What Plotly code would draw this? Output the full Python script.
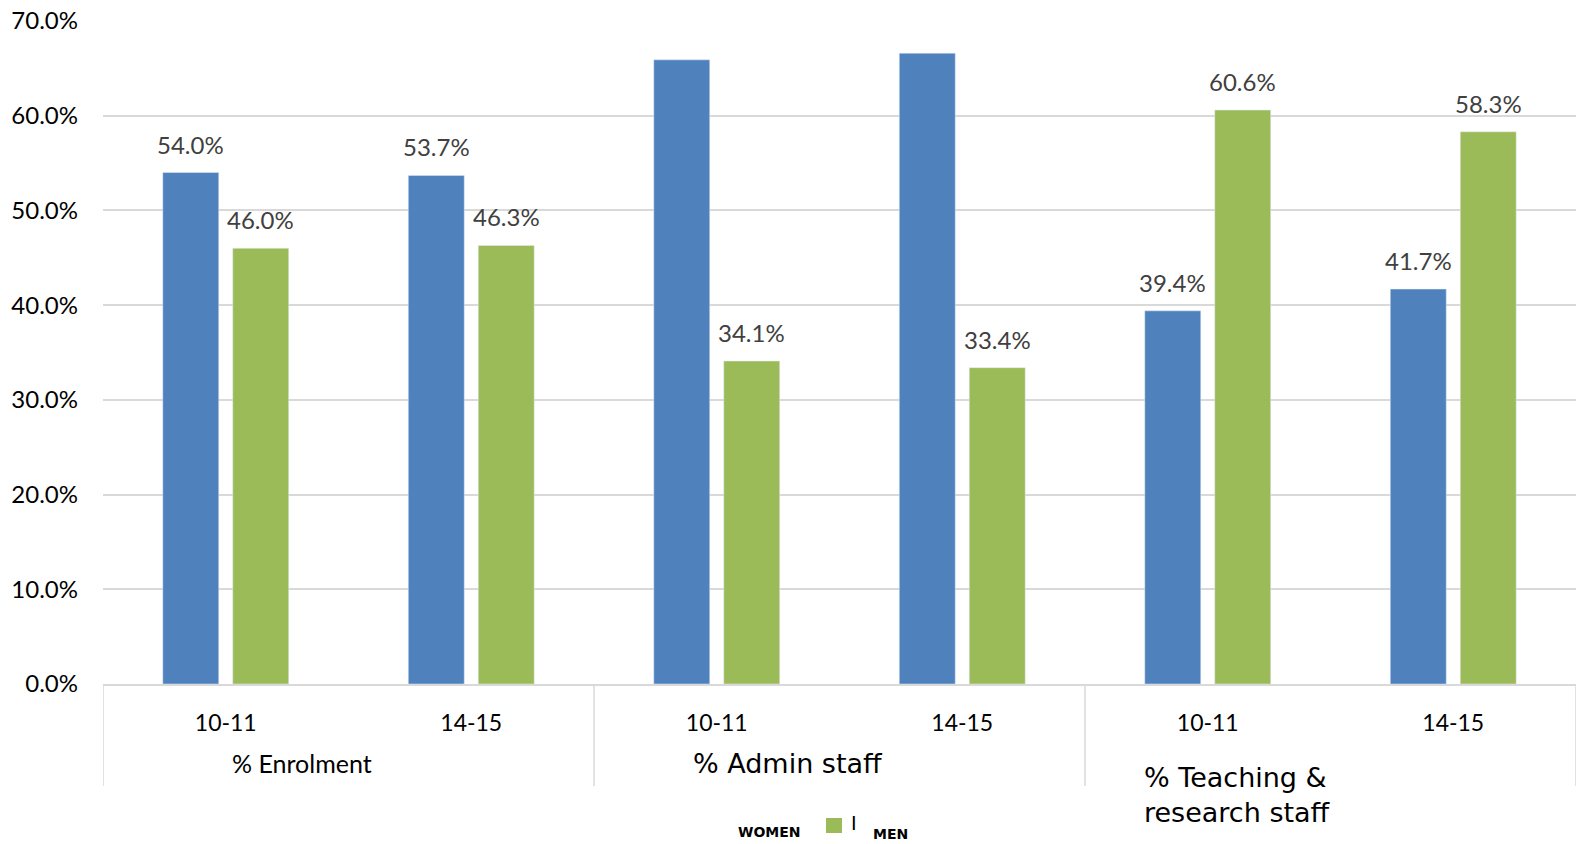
import plotly.graph_objects as go

groups = ["% Enrolment", "% Admin staff", "% Teaching &<br>research staff"]
years = ["10-11", "14-15", "10-11", "14-15", "10-11", "14-15"]
women = [54.0, 53.7, 65.9, 66.6, 39.4, 41.7]
men = [46.0, 46.3, 34.1, 33.4, 60.6, 58.3]
y_ticks = [0, 10, 20, 30, 40, 50, 60, 70]

BLUE = "#4F81BD"
GREEN = "#9BBB59"
GRID = "#d9d9d9"
FONT = "Lato"

L, T, W, H = 103, 21, 1473, 663


def px(x):
    return (x - L) / W


def py(y):
    return (T + H - y) / H


xs = list(range(len(years)))

fig = go.Figure()
fig.add_trace(go.Bar(x=xs, y=women, name="WOMEN", marker_color=BLUE, showlegend=False))
fig.add_trace(go.Bar(x=xs, y=men, name="MEN", marker_color=GREEN, showlegend=False))

bargap = 0.43
slot = (1 - bargap) / 2
annotations = []
for i in xs:
    for v, off, admin in ((women[i], -slot / 2, True), (men[i], slot / 2, False)):
        col = "#ffffff" if (admin and 2 <= i <= 3) else "#404040"
        annotations.append(dict(x=i + off, y=v, xref="x", yref="y", text=f"{v:.1f}%",
                                showarrow=False, yanchor="bottom", yshift=12,
                                font=dict(family=FONT, size=24, color=col)))

# group labels
annotations.append(dict(x=0.5 - 0.19, y=py(763), xref="x", yref="paper", text=groups[0],
                        showarrow=False, yanchor="middle",
                        font=dict(family=FONT, size=25, color="#000")))
annotations.append(dict(x=2.5 - 0.21, y=py(763), xref="x", yref="paper", text=groups[1],
                        showarrow=False, yanchor="middle",
                        font=dict(family="DejaVu Sans", size=27, color="#000")))
annotations.append(dict(x=px(1142), y=py(760), xref="paper", yref="paper", text=groups[2],
                        showarrow=False, yanchor="top", xanchor="left", align="left",
                        font=dict(family="DejaVu Sans", size=27, color="#000")))
# broken legend
annotations.append(dict(x=px(769), y=py(832), xref="paper", yref="paper", text="<b>WOMEN</b>",
                        showarrow=False, yanchor="middle",
                        font=dict(family="DejaVu Sans", size=14, color="#000")))
annotations.append(dict(x=px(854), y=py(823), xref="paper", yref="paper", text="I",
                        showarrow=False, yanchor="middle",
                        font=dict(family="DejaVu Sans", size=19, color="#000")))
annotations.append(dict(x=px(890), y=py(834), xref="paper", yref="paper", text="<b>MEN</b>",
                        showarrow=False, yanchor="middle",
                        font=dict(family="DejaVu Sans", size=14, color="#000")))

fig.update_layout(annotations=annotations)

shapes = []
for xv in (-0.5, 1.5, 3.5, 5.5):
    shapes.append(dict(type="line", xref="x", yref="paper", x0=xv, x1=xv, y0=0, y1=py(786),
                       line=dict(color=GRID, width=1.5)))
shapes.append(dict(type="rect", xref="paper", yref="paper", x0=px(826), x1=px(842),
                   y0=py(833), y1=py(818), line=dict(width=0), fillcolor=GREEN))
fig.update_layout(shapes=shapes)

fig.update_layout(
    width=1576, height=844,
    margin=dict(l=L, r=0, t=T, b=844 - T - H),
    paper_bgcolor="white", plot_bgcolor="white",
    barmode="group", bargap=bargap, bargroupgap=0.2,
    font=dict(family=FONT, size=22, color="#000"),
    xaxis=dict(range=[-0.5, 5.5], tickmode="array", tickvals=xs, ticktext=years,
               showgrid=False, showline=True, linecolor=GRID, linewidth=1.5,
               ticks="", ticklabelstandoff=18, tickfont=dict(family=FONT, size=23, color="#000")),
    yaxis=dict(range=[0, 70], tickmode="array", tickvals=y_ticks,
               ticktext=[f"{t:.1f}%" for t in y_ticks],
               showgrid=True, gridcolor=GRID, gridwidth=1.5, zeroline=False, showline=False,
               ticks="", ticklabelstandoff=24, tickfont=dict(family=FONT, size=24, color="#000")),
)

fig.write_html("out.html")
